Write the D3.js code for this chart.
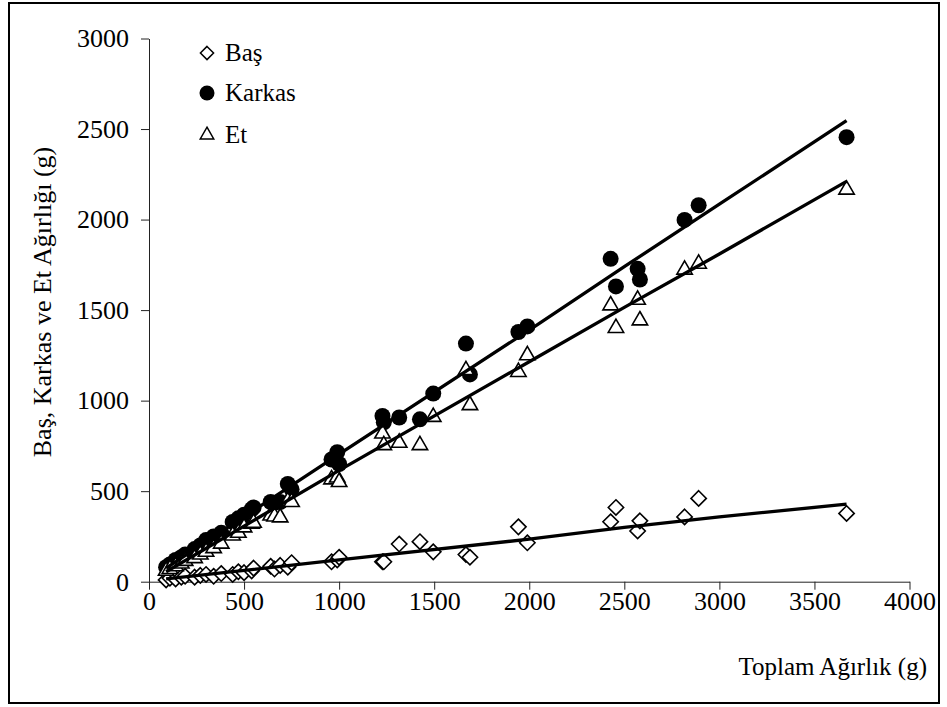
<!DOCTYPE html>
<html>
<head>
<meta charset="utf-8">
<script src="https://cdn.jsdelivr.net/npm/d3@7"></script>
<style>
  body { margin: 0; background: #fff; }
  svg { display: block; font-family: "Liberation Serif", "Times New Roman", serif; }
</style>
</head>
<body>
<svg id="chart"></svg>
<script>
// Toplam agirlik (x) and the three measured parts
const toplam = [90, 110, 140, 170, 190, 240, 270, 300, 340, 380, 440, 470, 500, 540, 550, 640, 660, 690, 730, 750,
    960, 990, 1000, 1228, 1235, 1316, 1425, 1495, 1667, 1688, 1943, 1990,
    2428, 2456, 2570, 2582, 2817, 2891, 3669];
const karkas = [80, 95, 120, 135, 150, 180, 200, 230, 250, 270, 330, 350, 370, 400, 410, 440, 435, 440, 540, 510,
    675, 715, 650, 915, 880, 907, 897, 1039, 1315, 1145, 1379, 1410,
    1783, 1631, 1728, 1669, 1998, 2079, 2455];
const et = [60, 70, 85, 100, 115, 130, 150, 165, 185, 210, 255, 270, 300, 320, 325, 365, 360, 355, 445, 440,
    565, 575, 550, 818, 754, 767, 754, 910, 1168, 975, 1158, 1250,
    1526, 1401, 1557, 1443, 1723, 1756, 2165];
const bas = [10, 20, 15, 25, 30, 25, 35, 40, 30, 45, 40, 55, 50, 60, 75, 85, 70, 90, 80, 105,
    110, 120, 135, 110, 110, 208, 221, 165, 150, 135, 303, 215,
    331, 410, 280, 336, 358, 460, 377];

// Trend lines
const trendX = [90, 1000, 2000, 2500, 3000, 3669];
const trendKarkas = [75, 705, 1390, 1740, 2085, 2546];
const trendEt = [55, 615, 1215, 1515, 1810, 2211];
const trendBas = [15, 120, 235, 300, 358, 428];

const xTicks = [0, 500, 1000, 1500, 2000, 2500, 3000, 3500, 4000];
const yTicks = [0, 500, 1000, 1500, 2000, 2500, 3000];

const width = 947, height = 707;

const svg = d3.select("#chart")
    .attr("width", width)
    .attr("height", height);

// outer frame
svg.append("rect")
    .attr("x", 9).attr("y", 3)
    .attr("width", 930).attr("height", 700)
    .attr("fill", "none")
    .attr("stroke", "black")
    .attr("stroke-width", 2);

const x = d3.scaleLinear().domain([0, 4000]).range([149, 909.5]);
const y = d3.scaleLinear().domain([0, 3000]).range([581.7, 38.5]);

// axes
const gx = svg.append("g")
    .attr("transform", `translate(0, ${y(0)})`)
    .call(d3.axisBottom(x).tickValues(xTicks).tickFormat(d3.format("d"))
        .tickSize(8).tickSizeOuter(0).tickPadding(2));

const gy = svg.append("g")
    .attr("transform", `translate(${x(0)}, 0)`)
    .call(d3.axisLeft(y).tickValues(yTicks).tickFormat(d3.format("d"))
        .tickSize(8).tickSizeOuter(0).tickPadding(12));

[gx, gy].forEach(g => {
    g.attr("font-family", null).attr("font-size", null);
    g.selectAll("text")
        .attr("font-size", 26)
        .attr("fill", "black");
    g.selectAll("line, path").attr("stroke", "#222");
});

// axis titles
svg.append("text")
    .attr("x", 927).attr("y", 675)
    .attr("text-anchor", "end")
    .attr("font-size", 25)
    .text("Toplam Ağırlık (g)");

svg.append("text")
    .attr("transform", "translate(51, 302) rotate(-90)")
    .attr("text-anchor", "middle")
    .attr("font-size", 26)
    .text("Baş, Karkas ve Et Ağırlığı (g)");

// marker shapes
const diamond = d3.symbol().type(d3.symbolDiamond2).size(150);
const triangle = d3.symbol().type(d3.symbolTriangle2).size(170);

const pts = toplam.map((t, i) => ({ t: t, bas: bas[i], karkas: karkas[i], et: et[i] }));

svg.append("g").selectAll("path")
    .data(pts)
    .enter()
    .append("path")
    .attr("d", diamond)
    .attr("transform", d => `translate(${x(d.t)}, ${y(d.bas)})`)
    .attr("fill", "white")
    .attr("stroke", "black")
    .attr("stroke-width", 1.6);

svg.append("g").selectAll("circle")
    .data(pts)
    .enter()
    .append("circle")
    .attr("cx", d => x(d.t))
    .attr("cy", d => y(d.karkas))
    .attr("r", 8)
    .attr("fill", "black");

svg.append("g").selectAll("path")
    .data(pts)
    .enter()
    .append("path")
    .attr("d", triangle)
    .attr("transform", d => `translate(${x(d.t)}, ${y(d.et)})`)
    .attr("fill", "white")
    .attr("stroke", "black")
    .attr("stroke-width", 1.6);

// trend lines
const line = d3.line().x(d => x(d[0])).y(d => y(d[1]));
[trendKarkas, trendEt, trendBas].forEach(series => {
    svg.append("path")
        .datum(trendX.map((t, i) => [t, series[i]]))
        .attr("d", line)
        .attr("fill", "none")
        .attr("stroke", "black")
        .attr("stroke-width", 3.3);
});

// legend
const legend = svg.append("g").attr("font-size", 25);

legend.append("path")
    .attr("d", d3.symbol().type(d3.symbolDiamond2).size(110))
    .attr("transform", "translate(207, 53)")
    .attr("fill", "white").attr("stroke", "black").attr("stroke-width", 1.5);
legend.append("text").attr("x", 225).attr("y", 61).text("Baş");

legend.append("circle")
    .attr("cx", 207).attr("cy", 93).attr("r", 7.5)
    .attr("fill", "black");
legend.append("text").attr("x", 225).attr("y", 101).text("Karkas");

legend.append("path")
    .attr("d", d3.symbol().type(d3.symbolTriangle2).size(130))
    .attr("transform", "translate(207, 135)")
    .attr("fill", "white").attr("stroke", "black").attr("stroke-width", 1.5);
legend.append("text").attr("x", 225).attr("y", 143).text("Et");
</script>
</body>
</html>
